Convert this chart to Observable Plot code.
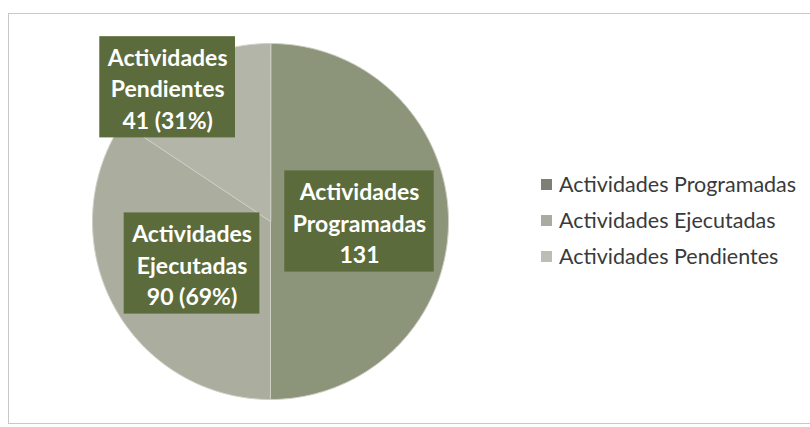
<!DOCTYPE html>
<html><head><meta charset="utf-8">
<script src="https://cdn.jsdelivr.net/npm/d3@7"></script>
<script src="https://cdn.jsdelivr.net/npm/@observablehq/plot@0.6"></script>
<style>
body{margin:0;background:#fff;}
#wrap{position:relative;width:810px;height:427px;overflow:hidden;}
#chart{position:absolute;left:0;top:0;}
#frame{position:absolute;left:8px;top:13px;width:830px;height:409px;border:1px solid #c8c8c8;border-right:none;pointer-events:none;}
#legend{position:absolute;left:541px;top:166px;font-family:Lato,sans-serif;font-size:21.5px;color:#3a3a3a;}
.item{display:flex;align-items:center;height:36px;white-space:nowrap;}
.sw{width:11px;height:11px;margin-right:7px;flex:none;}
</style></head><body>
<div id="wrap"><div id="chart"></div><div id="frame"></div><div id="legend"></div></div>
<script>
// ---- data ----
const categories = ["Actividades Programadas", "Actividades Ejecutadas", "Actividades Pendientes"];
const values = [131, 90, 41];
const shortNames = ["Programadas", "Ejecutadas", "Pendientes"];

// ---- styling ----
const sliceColors = ["#8c9579", "#abae9f", "#b2b5a8"];
const legendColors = ["#7e8077", "#a9aaa0", "#bdbdb6"];
const boxColor = "#5c6b3b";
const fontSize = 23;
const lineH = 1.38;

const total = d3.sum(values);
const base = values[0];

// slice polygons (angles clockwise from top)
const rows = [];
const slices = [];
let acc = 0;
categories.forEach((c, i) => {
  const a0 = acc / total * 2 * Math.PI;
  acc += values[i];
  const a1 = acc / total * 2 * Math.PI;
  slices.push({cat: c, a0, a1});
  rows.push({cat: c, x: 0, y: 0});
  const n = Math.max(2, Math.ceil((a1 - a0) / (Math.PI / 180)));
  for (let k = 0; k <= n; k++) {
    const a = a0 + (a1 - a0) * k / n;
    rows.push({cat: c, x: Math.sin(a), y: Math.cos(a)});
  }
});

// labels
const R = 178; // pixels per data unit
const ctx = document.createElement("canvas").getContext("2d");
ctx.font = `bold ${fontSize}px Lato`;
const labels = slices.map((s, i) => {
  const share = values[i] / total;
  let mid = (s.a0 + s.a1) / 2, r = 0.5;
  if (share < 0.2) { r = 0.95; mid -= 9.3 * Math.PI / 180; }
  const third = i === 0 ? String(values[i]) : `${values[i]} (${Math.round(values[i] / base * 100)}%)`;
  const lines = ["Actividades", shortNames[i], third];
  const w = (d3.max(lines, l => ctx.measureText(l).width) + 16) / R;
  const h = (lines.length * fontSize * lineH + 6) / R;
  const x = r * Math.sin(mid), y = r * Math.cos(mid);
  return {text: lines.join("\n"), x, y, x1: x - w / 2, x2: x + w / 2, y1: y - h / 2, y2: y + h / 2};
});

const chart = Plot.plot({
  width: 810, height: 427, margin: 0,
  style: {background: "transparent"},
  x: {domain: [-1, 1], range: [92, 448], axis: null},
  y: {domain: [-1, 1], range: [399, 43], axis: null},
  color: {domain: categories, range: sliceColors},
  marks: [
    Plot.line(rows, {x: "x", y: "y", z: "cat", fill: "cat", stroke: "#cfd1c7", strokeWidth: 1, curve: "linear-closed"}),
    Plot.rect(labels, {x1: "x1", x2: "x2", y1: "y1", y2: "y2", fill: boxColor}),
    Plot.text(labels, {x: "x", y: "y", text: "text", fill: "white", fontSize, fontWeight: "bold", fontFamily: "Lato", lineHeight: lineH})
  ]
});
document.getElementById("chart").appendChild(chart);

const leg = document.getElementById("legend");
categories.forEach((c, i) => {
  const it = document.createElement("div");
  it.className = "item";
  it.innerHTML = `<span class="sw" style="background:${legendColors[i]}"></span><span>${c}</span>`;
  leg.appendChild(it);
});
</script>
</body></html>
